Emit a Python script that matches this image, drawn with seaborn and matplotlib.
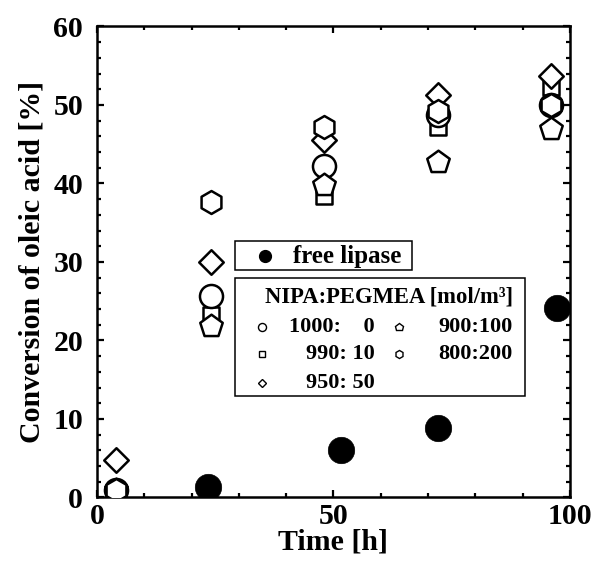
import matplotlib
matplotlib.use("Agg")
import matplotlib.pyplot as plt
import seaborn as sns
import pandas as pd
from matplotlib.patches import Rectangle
from matplotlib.lines import Line2D
from matplotlib.ticker import MultipleLocator

# ---- data ----
time_h = [4, 24, 48, 72, 96]
conv_1000_0 = [1.0, 25.7, 42.2, 48.7, 50.0]    # circle
conv_990_10 = [1.0, 23.2, 38.4, 47.2, 52.3]    # square
conv_950_50 = [4.8, 30.0, 45.6, 51.3, 53.7]    # diamond
conv_900_100 = [1.0, 21.8, 39.8, 42.8, 47.0]   # pentagon
conv_800_200 = [1.0, 37.7, 47.2, 49.2, 50.0]   # hexagon
free_time = [23.5, 51.6, 72.1, 97.2]
free_conv = [1.4, 6.0, 8.9, 24.2]

series_labels = ["1000:    0", "990: 10", "950: 50", "900:100", "800:200"]

sns.set_theme(style="ticks")
plt.rcParams["font.family"] = ["Liberation Serif", "DejaVu Serif"]
plt.rcParams["font.weight"] = "bold"
plt.rcParams["text.color"] = "black"
plt.rcParams["axes.labelcolor"] = "black"
plt.rcParams["xtick.color"] = "black"
plt.rcParams["ytick.color"] = "black"

fig = plt.figure(figsize=(5.95, 5.61), dpi=100)
ax = fig.add_axes([0.163, 0.1132, 0.795, 0.8396])

EW = 1.8  # marker edge width (pt)
# draw order: square, circle, diamond, pentagon, hexagon
specs = [
    (conv_990_10, "s", 11.9),
    (conv_1000_0, "o", 16.6),
    (conv_950_50, "D", 12.5),
    (conv_900_100, "p", 17.0),
    (conv_800_200, "h", 16.5),
]
for vals, mk, ms in specs:
    df = pd.DataFrame({"time": time_h, "conv": vals})
    sns.scatterplot(data=df, x="time", y="conv", marker=mk, s=ms ** 2,
                    color="white", edgecolor="black", linewidth=EW,
                    ax=ax, legend=False, zorder=3)

df_free = pd.DataFrame({"time": free_time, "conv": free_conv})
sns.scatterplot(data=df_free, x="time", y="conv", marker="o", s=19 ** 2,
                color="black", edgecolor="black", linewidth=0.5,
                ax=ax, legend=False, zorder=3)

ax.set_xlim(0, 100)
ax.set_ylim(0, 60)
ax.xaxis.set_major_locator(MultipleLocator(50))
ax.xaxis.set_minor_locator(MultipleLocator(10))
ax.yaxis.set_major_locator(MultipleLocator(10))
ax.yaxis.set_minor_locator(MultipleLocator(2))
ax.tick_params(which="both", direction="in", top=True, right=True,
               width=1.6, colors="black", labelcolor="black", labelsize=21.5)
ax.tick_params(which="major", length=5)
ax.tick_params(which="minor", length=3.2)
ax.tick_params(axis="y", which="both", pad=10)
ax.tick_params(axis="x", which="both", pad=4)
for lab in ax.get_xticklabels() + ax.get_yticklabels():
    lab.set_fontweight("bold")
    lab.set_color("black")
for sp in ax.spines.values():
    sp.set_linewidth(1.8)
    sp.set_color("black")

ax.set_xlabel("Time [h]", fontsize=21.5, fontweight="bold", labelpad=-1,
              color="black")
ax.set_ylabel("Conversion of oleic acid [%]", fontsize=21.5,
              fontweight="bold", labelpad=6, color="black")

# ---- legend boxes (drawn in axes fraction) ----
tr = ax.transAxes
box_kw = dict(transform=tr, fill=True, facecolor="white", edgecolor="black",
              linewidth=1.1, zorder=5)
ax.add_patch(Rectangle((0.292, 0.483), 0.373, 0.062, **box_kw))
ax.add_patch(Rectangle((0.292, 0.2155), 0.613, 0.2505, **box_kw))

ax.add_line(Line2D([0.355], [0.512], transform=tr, marker="o", ms=8.5,
                   color="black", zorder=6))
ax.text(0.414, 0.512, "free lipase", transform=tr, fontsize=18,
        fontweight="bold", va="center", ha="left", zorder=6, color="black")

ax.text(0.355, 0.426, "NIPA:PEGMEA [mol/m\u00b3]", transform=tr, fontsize=16.3,
        fontweight="bold", va="center", ha="left", zorder=6, color="black")

leg_markers = [("o", 5.8), ("s", 4.8), ("D", 4.2), ("p", 6.2), ("h", 5.8)]
leg_pos = [(0.348, 0.588, 0.3626), (0.348, 0.588, 0.3047),
           (0.348, 0.588, 0.2431), (0.638, 0.879, 0.3626),
           (0.638, 0.879, 0.3047)]
for (mk, ms), (mx, tx, ty), lab in zip(leg_markers, leg_pos, series_labels):
    ax.add_line(Line2D([mx], [ty], transform=tr, marker=mk, ms=ms,
                       mfc="white", mec="black", mew=1.0, zorder=6))
    ax.text(tx, ty, lab, transform=tr, fontsize=16, fontweight="bold",
            va="center", ha="right", zorder=6, color="black")

fig.savefig("out.png", dpi=100, facecolor="white")
